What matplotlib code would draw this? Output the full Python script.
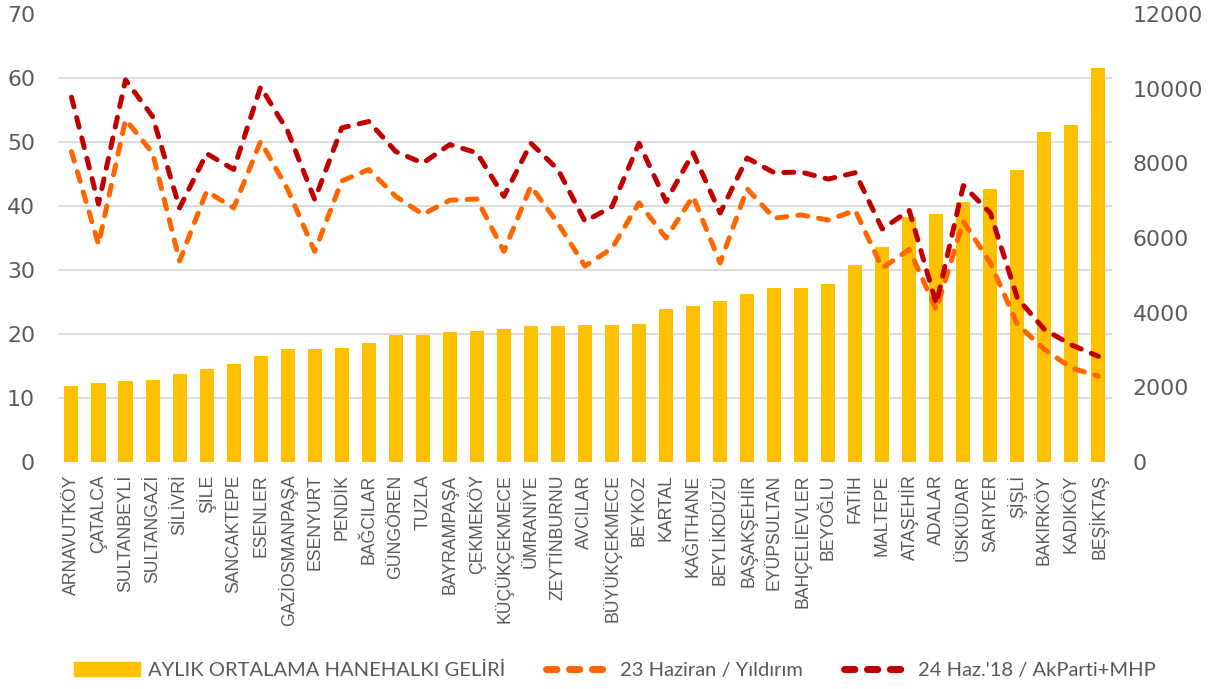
#!/usr/bin/env python3

import numpy
from matplotlib import pyplot
from matplotlib.patches import Patch
from matplotlib.lines import Line2D

districts = ["ARNAVUTKÖY", "ÇATALCA", "SULTANBEYLİ", "SULTANGAZİ", "SİLİVRİ",
			"ŞİLE", "SANCAKTEPE", "ESENLER", "GAZİOSMANPAŞA", "ESENYURT",
			"PENDİK", "BAĞCILAR", "GÜNGÖREN", "TUZLA", "BAYRAMPAŞA",
			"ÇEKMEKÖY", "KÜÇÜKÇEKMECE", "ÜMRANİYE", "ZEYTİNBURNU", "AVCILAR",
			"BÜYÜKÇEKMECE", "BEYKOZ", "KARTAL", "KAĞITHANE", "BEYLİKDÜZÜ",
			"BAŞAKŞEHİR", "EYÜPSULTAN", "BAHÇELİEVLER", "BEYOĞLU", "FATİH",
			"MALTEPE", "ATAŞEHİR", "ADALAR", "ÜSKÜDAR", "SARIYER",
			"ŞİŞLİ", "BAKIRKÖY", "KADIKÖY", "BEŞİKTAŞ"]

# monthly average household income (TL)
income = [2026, 2126, 2177, 2194, 2366, 2482, 2633, 2846, 3027, 3027,
		3062, 3197, 3394, 3411, 3473, 3497, 3566, 3634, 3643, 3660,
		3679, 3686, 4107, 4188, 4320, 4509, 4670, 4670, 4766, 5280,
		5760, 6566, 6643, 6977, 7303, 7817, 8839, 9017, 10553]

# vote share, %
yildirim_23 = [48.5, 34.0, 53.5, 48.3, 31.4, 42.3, 39.7, 50.1, 42.6, 32.9,
			43.9, 45.7, 41.5, 38.7, 40.9, 41.1, 32.9, 43.1, 37.3, 30.6,
			33.4, 40.5, 35.0, 41.5, 31.1, 42.7, 38.1, 38.6, 37.8, 39.3,
			30.3, 33.2, 23.8, 37.6, 31.1, 21.5, 17.6, 14.7, 13.4]

akp_mhp_24 = [57.0, 40.3, 59.7, 54.0, 39.7, 48.2, 45.7, 58.6, 51.7, 41.0,
			52.2, 53.2, 48.5, 46.7, 49.6, 48.3, 41.5, 49.8, 45.7, 37.6,
			39.9, 49.8, 40.7, 48.3, 38.9, 47.5, 45.2, 45.3, 44.2, 45.2,
			36.4, 39.3, 24.7, 43.2, 38.9, 25.6, 20.7, 18.3, 16.5]

BAR_C = "#FFC000"
ORANGE_C = "#FF6600"
RED_C = "#C00000"
TEXT_C = "#595959"
GRID_C = "#D9D9D9"

pyplot.rcParams["font.family"] = ["Liberation Sans", "DejaVu Sans"]

fig = pyplot.figure(figsize = (12.15, 6.89), dpi = 100)
ax = fig.add_axes([0.0477, 0.3295, 0.8675, 0.6502])
ax2 = ax.twinx()
ax.set_zorder(2)
ax2.set_zorder(1)
ax.patch.set_visible(False)

x = numpy.arange(len(districts))
num_font = {"family": ["DejaVu Sans"], "size": 15.8}

############################################################################
# bars: income on the right-hand axis
ax2.bar(x, income, width = 0.52, color = BAR_C, zorder = 2)
ax2.set_ylim(0, 12000)
ax2.set_yticks(range(0, 12001, 2000))
ax2.set_yticklabels([str(v) for v in range(0, 12001, 2000)], fontdict = num_font)
# gridlines follow the left (percent) scale
ax2.set_yticks(numpy.arange(0, 71, 10) * 12000 / 70, minor = True)
ax2.yaxis.grid(True, which = "minor", color = GRID_C, lw = 1.3)
ax2.set_axisbelow(True)
ax2.tick_params(axis = "y", which = "both", length = 0, pad = 15,
				labelcolor = TEXT_C)

############################################################################
# lines: vote share on the left-hand axis
dash = (2.0, 2.2)
ax.plot(x, yildirim_23, color = ORANGE_C, lw = 3.6, dashes = dash,
		dash_capstyle = "round", solid_joinstyle = "round")
ax.plot(x, akp_mhp_24, color = RED_C, lw = 3.6, dashes = dash,
		dash_capstyle = "round", solid_joinstyle = "round")
ax.set_ylim(0, 70)
ax.set_yticks(range(0, 71, 10))
ax.set_yticklabels([str(v) for v in range(0, 71, 10)], fontdict = num_font)
ax.tick_params(axis = "y", length = 0, pad = 16.5, labelcolor = TEXT_C)

ax.set_xlim(-0.5, len(districts) - 0.5)
ax.set_xticks(x)
ax.set_xticklabels(districts, rotation = 90, fontsize = 12.7, color = TEXT_C)
ax.tick_params(axis = "x", length = 0, pad = 9)

for a in (ax, ax2):
	for s in a.spines.values():
		s.set_visible(False)

############################################################################
# legend
handles = [Patch(color = BAR_C),
			Line2D([0], [0], color = ORANGE_C, lw = 5, dashes = (1.5, 1.8),
					dash_capstyle = "round"),
			Line2D([0], [0], color = RED_C, lw = 5, dashes = (1.5, 1.8),
					dash_capstyle = "round")]
labels = ["AYLIK ORTALAMA HANEHALKI GELİRİ", "23 Haziran / Yıldırım",
			"24 Haz.'18 / AkParti+MHP"]
fig.legend(handles, labels, loc = "center", bbox_to_anchor = (0.506, 0.027),
			ncol = 3, frameon = False, handlelength = 3.3, handleheight = 0.75,
			handletextpad = 0.4, columnspacing = 2.0,
			prop = {"family": ["Lato", "DejaVu Sans"], "size": 14.5},
			labelcolor = TEXT_C)

pyplot.savefig("out.png")
pyplot.close()
